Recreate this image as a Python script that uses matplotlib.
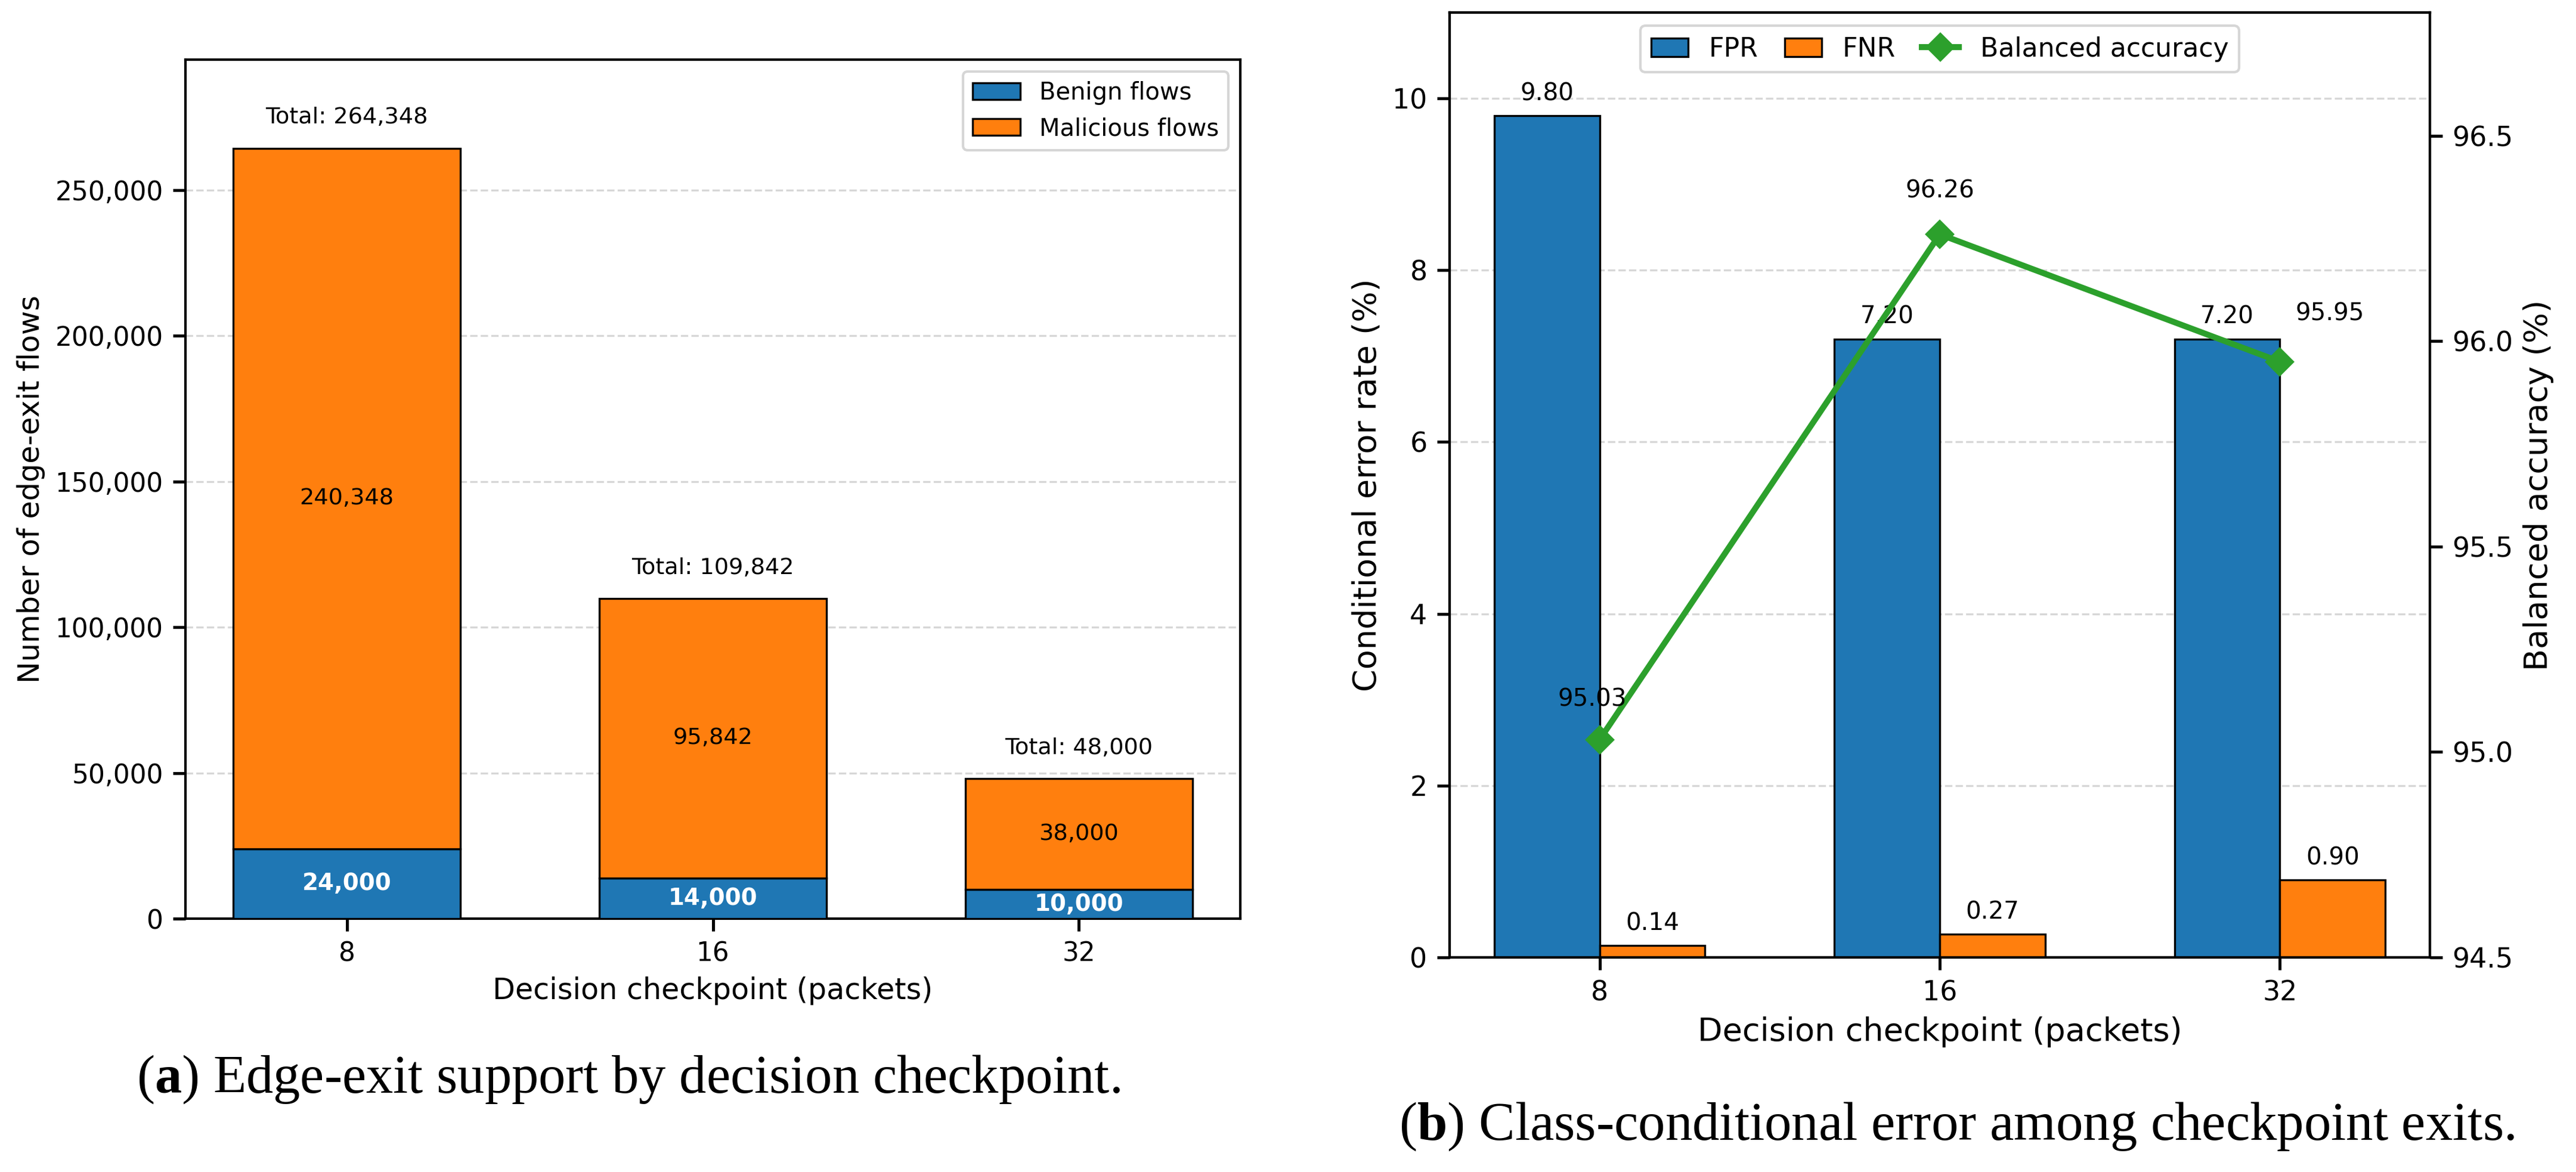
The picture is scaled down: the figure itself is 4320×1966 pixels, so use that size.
import matplotlib
matplotlib.use("Agg")
import matplotlib.pyplot as plt
from matplotlib.ticker import FuncFormatter
from matplotlib.patches import Patch
from matplotlib.lines import Line2D
import numpy as np

# ---------------- data ----------------
checkpoints = ["8", "16", "32"]
benign_flows = [24000, 14000, 10000]
malicious_flows = [240348, 95842, 38000]

fpr = [9.80, 7.20, 7.20]
fnr = [0.14, 0.27, 0.90]
balanced_acc = [95.03, 96.26, 95.95]

caption_a = r"($\mathbf{a}$) Edge-exit support by decision checkpoint."
caption_b = r"($\mathbf{b}$) Class-conditional error among checkpoint exits."

# ---------------- style ----------------
plt.rcParams["font.family"] = ["DejaVu Sans"]
plt.rcParams["mathtext.fontset"] = "custom"
plt.rcParams["mathtext.rm"] = "Liberation Serif"
plt.rcParams["mathtext.bf"] = "Liberation Serif:bold"
plt.rcParams["axes.linewidth"] = 1.0

BLUE = "#1f77b4"
ORANGE = "#ff7f0e"
GREEN = "#2ca02c"

W, H, DPI = 4320, 1966, 300
fig = plt.figure(figsize=(W / DPI, 6.5535), dpi=DPI)

def px_axes(x0, x1, y0, y1):
    return [x0 / W, 1 - y1 / H, (x1 - x0) / W, (y1 - y0) / H]

# ================= panel (a) =================
axa = fig.add_axes(px_axes(311, 2080, 100, 1541))
x = np.arange(len(checkpoints))
bw = 0.62
totals = [b + m for b, m in zip(benign_flows, malicious_flows)]
axa.bar(x, benign_flows, bw, color=BLUE, edgecolor="black", linewidth=0.8,
        label="Benign flows", zorder=3)
axa.bar(x, malicious_flows, bw, bottom=benign_flows, color=ORANGE,
        edgecolor="black", linewidth=0.8, label="Malicious flows", zorder=3)
axa.set_ylim(0, max(totals) * 1.115)
axa.set_xticks(x)
axa.set_xticklabels(checkpoints)
axa.yaxis.set_major_formatter(FuncFormatter(lambda v, p: f"{int(v):,}"))
axa.tick_params(axis="both", labelsize=10.5, length=5, width=1.2, pad=4)
axa.set_xlabel("Decision checkpoint (packets)", fontsize=11.8)
axa.set_ylabel("Number of edge-exit flows", fontsize=11.8)
axa.grid(axis="y", linestyle="--", linewidth=0.8, alpha=0.5)
axa.set_axisbelow(True)

for i in range(len(x)):
    axa.text(x[i], benign_flows[i] / 2, f"{benign_flows[i]:,}", ha="center",
             va="center", color="white", fontweight="bold", fontsize=9.3, zorder=4)
    axa.text(x[i], benign_flows[i] + malicious_flows[i] / 2,
             f"{malicious_flows[i]:,}", ha="center", va="center",
             color="black", fontsize=9.2, zorder=4)
    axa.annotate(f"Total: {totals[i]:,}", (x[i], totals[i]),
                 xytext=(0, 8), textcoords="offset points",
                 ha="center", va="bottom", fontsize=9.2)

axa.legend(loc="upper right", fontsize=9.6)

# ================= panel (b) =================
axb = fig.add_axes(px_axes(2431, 4075, 21, 1606))
w2 = 0.31
axb.bar(x - w2 / 2, fpr, w2, color=BLUE, edgecolor="black", linewidth=0.8,
        label="FPR", zorder=3)
axb.bar(x + w2 / 2, fnr, w2, color=ORANGE, edgecolor="black", linewidth=0.8,
        label="FNR", zorder=3)
axb.set_ylim(0, 11)
axb.set_xticks(x)
axb.set_xticklabels(checkpoints)
axb.tick_params(axis="both", labelsize=11, length=5, width=1.2, pad=4)
axb.set_xlabel("Decision checkpoint (packets)", fontsize=13)
axb.set_ylabel("Conditional error rate (%)", fontsize=13)
axb.grid(axis="y", linestyle="--", linewidth=0.8, alpha=0.5)
axb.set_axisbelow(True)

for i in range(len(x)):
    axb.annotate(f"{fpr[i]:.2f}", (x[i] - w2 / 2, fpr[i]), xytext=(0, 4),
                 textcoords="offset points", ha="center", va="bottom", fontsize=9.7)
    axb.annotate(f"{fnr[i]:.2f}", (x[i] + w2 / 2, fnr[i]), xytext=(0, 4),
                 textcoords="offset points", ha="center", va="bottom", fontsize=9.7)

axc = axb.twinx()
axc.plot(x, balanced_acc, color=GREEN, linewidth=2.4, marker="D",
         markersize=7.5, label="Balanced accuracy")
axc.set_ylim(94.5, 96.8)
axc.tick_params(axis="y", labelsize=11, length=5, width=1.2, pad=4)
axc.set_ylabel("Balanced accuracy (%)", fontsize=13)

acc_offsets = [(-3, 11.4), (0, 12.6), (20, 14.5)]
for i in range(len(x)):
    axc.annotate(f"{balanced_acc[i]:.2f}", (x[i], balanced_acc[i]),
                 xytext=acc_offsets[i], textcoords="offset points",
                 ha="center", va="bottom", fontsize=9.7)

handles = [Patch(facecolor=BLUE, edgecolor="black", linewidth=0.8, label="FPR"),
           Patch(facecolor=ORANGE, edgecolor="black", linewidth=0.8, label="FNR"),
           Line2D([0], [0], color=GREEN, linewidth=2.4, marker="D",
                  markersize=7.5, label="Balanced accuracy")]
axc.legend(handles=handles, loc="upper center", ncol=3, fontsize=10.6,
           handlelength=1.4, columnspacing=1.0)

# ================= captions =================
cap_a = fig.text(1054 / W, 1 - 1833 / H, caption_a, family="Liberation Serif",
                 fontsize=20, ha="center", va="baseline")
cap_b = fig.text(3282 / W, 1 - 1912 / H, caption_b, family="Liberation Serif",
                 fontsize=20, ha="center", va="baseline")

renderer = fig.canvas.get_renderer()
for t, target in ((cap_a, 1652), (cap_b, 1873)):
    wpx = t.get_window_extent(renderer).width
    t.set_fontsize(20 * target / wpx)

fig.savefig("out.png", dpi=DPI)
